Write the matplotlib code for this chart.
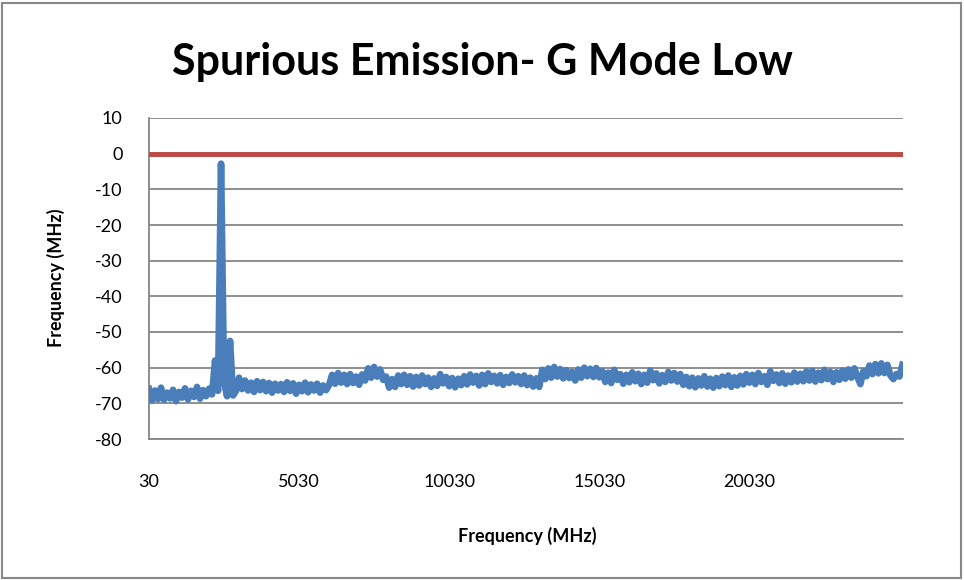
import numpy as np
import matplotlib
matplotlib.use('Agg')
import matplotlib.pyplot as plt
from matplotlib.patches import Rectangle

plt.rcParams['font.family'] = ['Lato', 'DejaVu Sans']
plt.rcParams['axes.unicode_minus'] = False

# sweep start / step (MHz), one reading per step
f_start = 30
f_step = 100

lvl_start = [-66.0, -69.2, -66.4, -68.8, -65.6, -69.0, -67.0, -68.6, -66.2, -69.4,
             -66.8, -68.4, -65.8, -68.9, -66.5, -68.2, -65.4, -68.7, -66.3, -68.0,
             -65.9]
lvl_carrier = [-67.5, -58.0, -66.5, -2.8, -64.0, -68.0, -52.5, -67.8]
lvl_low = [-66.5, -62.8, -66.0, -63.6, -66.4, -64.2, -66.8, -63.8, -66.3, -64.0,
           -66.6, -64.3, -67.0, -64.5, -66.4, -64.6, -66.8, -64.1, -66.5, -64.4,
           -67.3, -64.8, -66.6, -64.2, -66.9, -64.7, -66.4, -64.5, -67.0, -65.0,
           -66.3, -64.8]
lvl_mid1 = [-62.0, -64.5, -61.5, -64.2, -62.0, -64.6, -61.8, -64.3, -62.5, -64.8,
            -61.9, -63.6, -60.2, -62.8, -59.8, -62.5, -60.5, -63.4, -62.5, -65.6,
            -63.2, -65.4, -62.2, -64.6, -62.0,
            -64.8, -62.4, -65.3, -62.6, -65.0, -62.2, -64.6, -62.8, -65.4, -63.0,
            -65.1, -61.8, -64.4, -62.6, -65.2, -62.9, -65.5, -63.1, -64.9, -62.4,
            -64.7, -61.9, -64.2, -62.3, -65.0]
lvl_mid2 = [-62.0, -64.6, -61.6, -64.0, -62.3, -64.4, -62.1, -64.8, -62.6, -64.3,
            -61.9, -64.1, -62.4, -64.6, -62.2, -64.9, -62.8, -65.3, -63.0, -65.4,
            -60.6, -63.2, -60.2, -62.8, -59.8, -62.5, -60.4, -63.0, -60.7, -62.9,
            -61.2, -63.6, -60.5, -62.8, -60.0, -62.4, -60.3, -62.6, -60.1, -62.7]
lvl_high1 = [-61.0, -64.0, -61.4, -64.3, -60.6, -63.4, -61.8, -64.5, -62.0, -64.1,
             -61.3, -63.8, -61.7, -64.6, -62.0, -64.2, -60.8, -63.5, -61.6, -64.4,
             -62.1, -64.0, -61.2, -63.6, -61.5, -63.9, -61.8,
             -64.8, -62.6, -65.2, -62.8, -65.5, -63.0, -65.0, -62.4, -65.3, -63.1,
             -65.6, -62.9, -65.2, -62.5, -64.9, -62.2, -65.4, -62.7, -65.0, -62.3,
             -64.7]
lvl_high2 = [-61.8, -64.2, -62.0, -64.6, -61.5, -64.0, -62.4, -64.8, -61.0, -63.7,
             -61.9, -64.3, -61.6, -64.5, -62.2, -64.1, -61.4, -63.9, -61.7,
             -63.8, -61.0, -63.6, -60.9, -63.9, -61.4, -63.5, -60.6, -63.2, -61.2,
             -64.0, -61.3, -63.4, -60.8, -63.1,
             -60.5, -62.8, -60.2, -62.6, -64.6, -61.0, -62.4, -59.4, -61.8, -59.0,
             -61.6, -58.8, -61.5, -59.2, -62.2, -63.2, -61.8, -62.5, -59.2]

limit_level = 0

x_ticks = [30, 5030, 10030, 15030, 20030]
y_ticks = [10, 0, -10, -20, -30, -40, -50, -60, -70, -80]

level = lvl_start + lvl_carrier + lvl_low + lvl_mid1 + lvl_mid2 + lvl_high1 + lvl_high2
freq = f_start + f_step * np.arange(len(level))

fig = plt.figure(figsize=(9.64, 5.8), dpi=100)
ax = fig.add_axes([149 / 964, 1 - 439 / 580, 754 / 964, 321 / 580])

ax.plot(freq, level, color='#4A7EBB', lw=4.8, solid_joinstyle='round', zorder=3)
ax.plot([freq[0], freq[-1]], [limit_level, limit_level], color='#BE4B48', lw=3.6, zorder=4)

ax.set_xlim(freq[0], freq[-1] + 20)
ax.set_ylim(-80, 10)
ax.set_yticks(y_ticks)
ax.set_xticks(x_ticks)
ax.set_xticklabels([str(v) for v in x_ticks])
ax.yaxis.grid(True, color='#868686', lw=1.3)
ax.set_axisbelow(True)
ax.tick_params(length=0, labelsize=13)
ax.tick_params(axis='x', pad=25)
ax.tick_params(axis='y', pad=19)
for s in ['top', 'right']:
    ax.spines[s].set_visible(False)
for s in ['left', 'bottom']:
    ax.spines[s].set_color('#868686')
    ax.spines[s].set_linewidth(1.3)

fig.text(0.5, 1 - 62 / 580, 'Spurious Emission- G Mode Low', ha='center', va='center',
         fontsize=31, fontweight='bold')
fig.text(527 / 964, 1 - 536 / 580, 'Frequency (MHz)', ha='center', va='center',
         fontsize=13, fontweight='bold')
fig.text(56 / 964, 1 - 278 / 580, 'Frequency (MHz)', ha='center', va='center',
         fontsize=13, fontweight='bold', rotation=90)

fig.patches.append(Rectangle((2 / 964, 2 / 580), 959 / 964, 575 / 580, transform=fig.transFigure,
                             fill=False, edgecolor='#888888', lw=1.5))

fig.savefig('out.png', dpi=100)
